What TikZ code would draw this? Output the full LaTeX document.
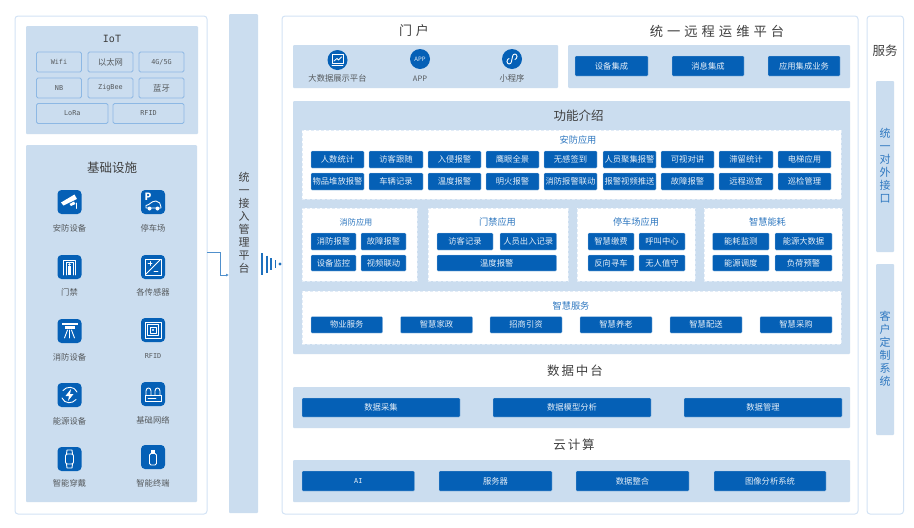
\documentclass[tikz,border=0pt]{standalone}
\usepackage{fontspec}
\usetikzlibrary{arrows.meta}
\setmainfont{Noto Sans CJK SC}
\newfontfamily\latinfont{DejaVu Sans Mono}
\newfontfamily\widefont[LetterSpace=30]{Noto Sans CJK SC}
\newfontfamily\halffont[LetterSpace=15]{Noto Sans CJK SC}
\definecolor{panelblue}{HTML}{CBDDEF}
\definecolor{btnblue}{HTML}{0560B6}
\definecolor{edgeblue}{HTML}{D3E3F5}
\definecolor{dashblue}{HTML}{E2ECF7}
\definecolor{chipedge}{HTML}{8DB8E4}
\definecolor{inkgrey}{HTML}{404040}
\definecolor{labelgrey}{HTML}{55595C}
\definecolor{headblue}{HTML}{2F78C0}
\tikzset{
  outerbox/.style={draw=edgeblue, line width=1pt, fill=white, rounded corners=3pt, inner sep=0pt},
  panel/.style={fill=panelblue, rounded corners=1pt, inner sep=0pt, text=inkgrey},
  whitebox/.style={draw=dashblue, densely dashed, line width=0.7pt, fill=white, inner sep=0pt},
  btn/.style={fill=btnblue, draw=white!70!btnblue, line width=0.3pt, rounded corners=1pt, inner sep=0pt, text=white!90!btnblue, font=\fontsize{8.3}{9}\selectfont},
  chip/.style={draw=chipedge, line width=0.8pt, rounded corners=1.5pt, inner sep=0pt, text=labelgrey, font=\fontsize{8.3}{9}\selectfont},
  latinchip/.style={chip, font=\latinfont\fontsize{6.8}{8}\selectfont},
  bigtitle/.style={text=inkgrey, font=\fontsize{12.5}{14}\selectfont, inner sep=0pt},
  apptitle/.style={text=headblue, font=\fontsize{9.2}{10}\selectfont, inner sep=0pt},
  iconlabel/.style={text=labelgrey, font=\fontsize{8.3}{9}\selectfont, inner sep=0pt},
  iconbox/.style={fill=btnblue, rounded corners=4pt, minimum size=24pt, inner sep=0pt},
  iconround/.style={fill=btnblue, circle, minimum size=20pt, inner sep=0pt},
  glyph/.style={draw=white, line width=0.9pt, line cap=round, line join=round},
  vertical/.style={align=center, font=\fontsize{11}{13}\selectfont},
  bar/.style={draw=btnblue!90!white, line cap=butt}
}
% box given by its corners, in pixels of the reference
\newcommand{\blk}[7]{%
  \pgfmathsetmacro{\blkw}{#5-#3}%
  \pgfmathsetmacro{\blkh}{#6-#4}%
  \node[#1, minimum width=\blkw pt, minimum height=\blkh pt] (#2) at ({(#3+#5)/2},{(#4+#6)/2}) {#7};}
\begin{document}
\begin{tikzpicture}[x=1pt, y=-1pt]
  \useasboundingbox (0,0) rectangle (914,528);
  % three frames and the access bar
  \blk{outerbox}{leftframe}{15}{16}{207}{514}{}
  \blk{outerbox}{mainframe}{282}{16}{858}{514}{}
  \blk{outerbox}{serviceframe}{867}{16}{903.5}{514}{}
  \blk{panel}{accessbar}{229}{14}{258}{513}{}
  \node[vertical, text=inkgrey, inner sep=0pt] (accesstext) at (244,222.5) {统\\一\\接\\入\\管\\理\\平\\台};

  % IoT
  \blk{panel}{iotpanel}{26}{26}{198}{134}{}
  \node[text=inkgrey, font=\latinfont\fontsize{10}{12}\selectfont, inner sep=0pt] (iottitle) at (112,39) {IoT};
  \blk{latinchip}{wifi}{36.5}{52}{81.5}{72}{Wifi}
  \blk{chip}{ethernet}{88}{52}{133}{72}{以太网}
  \blk{latinchip}{fiveg}{139}{52}{184}{72}{4G/5G}
  \blk{latinchip}{nb}{36.5}{78}{81.5}{98}{NB}
  \blk{latinchip}{zigbee}{88}{78}{133}{98}{ZigBee}
  \blk{chip}{bluetooth}{139}{78}{184}{98}{蓝牙}
  \blk{latinchip}{lora}{36.5}{103.5}{108}{123.5}{LoRa}
  \blk{latinchip}{rfidchip}{113}{103.5}{184}{123.5}{RFID}

  % base facilities
  \blk{panel}{basepanel}{26}{145}{197}{502}{}
  \node[bigtitle] (basetitle) at (112,168) {基础设施};
  \foreach \nm/\x/\y/\ly/\txt in {
    camera/69.5/202/228.5/安防设备, parking/153/202/228.5/停车场,
    gate/69.5/267/292.5/门禁, sensor/153/267/292.5/各传感器,
    fire/69.5/331/357/消防设备, rfid/153/330/356.5/{\latinfont\fontsize{6.8}{8}\selectfont RFID},
    energy/69.5/395/421/能源设备, network/153/394/420/基础网络,
    watch/69.5/459/483/智能穿戴, terminal/153/457/483/智能终端} {
    \node[iconbox] (\nm) at (\x,\y) {};
    \node[iconlabel] (\nm-label) at (\x,\ly) {\txt};
  }

  % icon glyphs
  \begin{scope}[shift={(camera.center)}]
    \fill[white] (-8.5,0.5) -- (5,-7.5) -- (7.5,-3) -- (-6,3.5) -- cycle;
    \fill[white] (0,2) -- (4.5,-0.5) -- (6,2) -- (1.5,4) -- cycle;
    \draw[glyph] (6.5,1) -- (6.5,6.5);
  \end{scope}
  \begin{scope}[shift={(parking.center)}]
    \node[text=white, font=\bfseries\fontsize{10}{10}\selectfont, inner sep=0pt] (parkingmark) at (-5,-5) {P};
    \draw[glyph] (-7,6) -- (-7,3.5) .. controls (-3,3) and (-2,-1) .. (3,-1) .. controls (6,-1) and (8,2) .. (8,5) -- (8,6) -- cycle;
    \fill[white] (-3.5,6.5) circle (2) (4.5,6.5) circle (2);
  \end{scope}
  \begin{scope}[shift={(gate.center)}]
    \draw[glyph] (-6,8) -- (-6,-7) -- (6,-7) -- (6,8);
    \draw[glyph] (-3.5,8) -- (-3.5,-4.5) -- (3.5,-4.5) -- (3.5,8);
    \fill[white] (0,-2.5) circle (1.3);
    \fill[white] (-1.5,-0.8) rectangle (1.5,7.5);
  \end{scope}
  \begin{scope}[shift={(sensor.center)}]
    \draw[glyph] (-8,-8) rectangle (8,8);
    \draw[glyph] (7,-7) -- (-7,7);
    \draw[glyph] (-5,-3.5) -- (-1,-3.5) (-3,-5.5) -- (-3,-1.5) (1,4) -- (5,4);
  \end{scope}
  \begin{scope}[shift={(fire.center)}]
    \fill[white] (-8,-8) rectangle (8,-6);
    \fill[white] (-5,-5) rectangle (5,-2.5);
    \draw[glyph] (-2,-1) -- (-5,7) (0,-1) -- (0,7) (2,-1) -- (5,7);
  \end{scope}
  \begin{scope}[shift={(rfid.center)}]
    \draw[glyph, line width=0.7pt] (-8,-8) rectangle (8,8) (-5.5,-5.5) rectangle (5.5,5.5) (-3,-3) rectangle (3,3);
    \fill[white] (0,0) circle (1.2);
  \end{scope}
  \begin{scope}[shift={(energy.center)}]
    \draw[glyph] (-6.5,-4.5) .. controls (-3,-9) and (5,-9) .. (7.5,-3);
    \draw[glyph] (6.5,4.5) .. controls (3,9) and (-5,9) .. (-7.5,3);
    \fill[white] (1.5,-6) -- (-4,1) -- (-0.5,1) -- (-1.5,6) -- (4,-1) -- (0.5,-1) -- cycle;
  \end{scope}
  \begin{scope}[shift={(network.center)}]
    \draw[glyph] (-8,1.5) rectangle (8,7);
    \draw[glyph] (-7,1.5) -- (-7,-3) .. controls (-7,-7) and (-2,-7) .. (-2,-3) -- (-2,1.5);
    \draw[glyph] (2,1.5) -- (2,-3) .. controls (2,-7) and (7,-7) .. (7,-3) -- (7,1.5);
    \draw[glyph] (-5,4.3) -- (3,4.3);
  \end{scope}
  \begin{scope}[shift={(watch.center)}]
    \draw[glyph, rounded corners=2pt] (-4,-5) rectangle (4,5);
    \draw[glyph] (-3,-5) -- (-2.5,-9) -- (2.5,-9) -- (3,-5) (-3,5) -- (-2.5,9) -- (2.5,9) -- (3,5);
  \end{scope}
  \begin{scope}[shift={(terminal.center)}]
    \draw[glyph, rounded corners=1.5pt] (-3.5,-3.5) rectangle (3.5,8);
    \fill[white] (-2,-7.5) rectangle (2,-4.5);
  \end{scope}

  % link to the access bar
  \coordinate (linkstart) at (207,252);
  \coordinate (linkbend) at (220.5,252);
  \coordinate (linkdown) at (220.5,275);
  \coordinate (linkend) at (229,275);
  \draw[draw=btnblue!70!white, line width=0.8pt, -{Latex[length=3pt,width=3pt]}] (linkstart) -- (linkbend) -- (linkdown) -- (linkend);
  % signal bars
  \foreach \x/\h/\w in {262/11/2.2, 266.5/8.5/2, 271/6/1.9, 275.5/4/1.8} {
    \draw[bar, line width=\w pt] (\x,264-\h) -- (\x,264+\h);
  }
  \fill[btnblue!90!white] (280,264) circle (1.6);

  % portal
  \node[bigtitle, font=\widefont\fontsize{13}{14}\selectfont] (portaltitle) at (414,31) {门户};
  \blk{panel}{portalpanel}{293}{45}{558}{88}{}
  \node[iconround] (bigdata) at (337.5,60) {};
  \node[iconround, text=white!90!btnblue, font=\fontsize{6}{7}\selectfont] (app) at (420,59) {APP};
  \node[iconround] (miniapp) at (512,59) {};
  \node[iconlabel] (bigdatalabel) at (337.5,78.5) {大数据展示平台};
  \node[iconlabel, font=\fontsize{7.5}{9}\selectfont] (applabel) at (420,78.5) {APP};
  \node[iconlabel] (miniapplabel) at (512,78.5) {小程序};
  \begin{scope}[shift={(bigdata.center)}]
    \draw[glyph, line width=0.8pt] (5.5,-5.5) -- (-5.5,-5.5) -- (-5.5,3) -- (5.5,3) -- cycle;
    \draw[glyph, line width=0.8pt] (-3.5,1) -- (-0.5,-1.5) -- (1,0) -- (4,-3) (-5.5,5.5) -- (5.5,5.5);
  \end{scope}
  \begin{scope}[shift={(miniapp.center)}]
    \draw[glyph] (-5,2.5) .. controls (-5,5.5) and (-1,6) .. (-0.5,2.5) -- (0.5,-2.5) .. controls (1,-6) and (5,-5.5) .. (5,-2.5);
    \draw[glyph] (-5,2.5) .. controls (-5,1) and (-4,0) .. (-3,-0.5) (5,-2.5) .. controls (5,-1) and (4,0) .. (3,0.5);
  \end{scope}

  % remote operations
  \node[bigtitle, font=\widefont\fontsize{13.3}{14}\selectfont] (opstitle) at (717,31) {统一远程运维平台};
  \blk{panel}{opspanel}{568}{45}{850}{88}{}
  \blk{btn}{opsdevice}{575}{56}{648}{76}{设备集成}
  \blk{btn}{opsmessage}{672}{56}{744}{76}{消息集成}
  \blk{btn}{opsapp}{768}{56}{840}{76}{应用集成业务}

  % functions
  \blk{panel}{funcpanel}{293}{101}{850}{354}{}
  \node[bigtitle] (functitle) at (578.5,116) {功能介绍};
  \blk{whitebox}{secbox}{302}{130}{841}{199}{}
  \node[apptitle] (sectitle) at (578,140) {安防应用};
  \foreach \i/\xa/\xb/\toprow/\lowrow in {
    1/311/364/人数统计/物品堆放报警, 2/369/423/访客跟随/车辆记录,
    3/428/481/入侵报警/温度报警, 4/486/539/鹰眼全景/明火报警,
    5/544/597/无感签到/消防报警联动, 6/603/656/人员聚集报警/报警视频推送,
    7/661/714/可视对讲/故障报警, 8/719/773/滞留统计/远程巡查,
    9/778/831/电梯应用/巡检管理} {
    \blk{btn}{secA\i}{\xa}{151}{\xb}{168}{\toprow}
    \blk{btn}{secB\i}{\xa}{173}{\xb}{190}{\lowrow}
  }

  \blk{whitebox}{firebox}{302}{208}{417}{281}{}
  \node[apptitle, font=\fontsize{8.2}{10}\selectfont] (firetitle) at (356,222) {消防应用};
  \blk{btn}{fireA}{311}{233}{356}{250}{消防报警}
  \blk{btn}{fireB}{361}{233}{406}{250}{故障报警}
  \blk{btn}{fireC}{311}{255}{356}{271}{设备监控}
  \blk{btn}{fireD}{361}{255}{406}{271}{视频联动}

  \blk{whitebox}{gatebox}{428}{208}{568}{281}{}
  \node[apptitle] (gatetitle) at (497.5,222) {门禁应用};
  \blk{btn}{gateA}{437}{233}{493}{250}{访客记录}
  \blk{btn}{gateB}{500}{233}{556.5}{250}{人员出入记录}
  \blk{btn}{gateC}{437}{255}{556.5}{271}{温度报警}

  \blk{whitebox}{parkbox}{577}{208}{695}{281}{}
  \node[apptitle] (parktitle) at (636,222) {停车场应用};
  \blk{btn}{parkA}{588}{233}{634}{250}{智慧缴费}
  \blk{btn}{parkB}{639}{233}{685}{250}{呼叫中心}
  \blk{btn}{parkC}{588}{255}{634}{271}{反向寻车}
  \blk{btn}{parkD}{639}{255}{685}{271}{无人值守}

  \blk{whitebox}{powerbox}{704}{208}{842}{281}{}
  \node[apptitle] (powertitle) at (767.5,222) {智慧能耗};
  \blk{btn}{powerA}{712.5}{233}{769}{250}{能耗监测}
  \blk{btn}{powerB}{775}{233}{832}{250}{能源大数据}
  \blk{btn}{powerC}{712.5}{255}{769}{271}{能源调度}
  \blk{btn}{powerD}{775}{255}{832}{271}{负荷预警}

  \blk{whitebox}{smartbox}{302}{291}{841}{344}{}
  \node[apptitle] (smarttitle) at (571,306) {智慧服务};
  \foreach \i/\xa/\xb/\txt in {1/311/382.5/物业服务, 2/400.5/472.5/智慧家政, 3/490/562/招商引资,
    4/580/652/智慧养老, 5/670/742/智慧配送, 6/760/832/智慧采购} {
    \blk{btn}{smart\i}{\xa}{316.5}{\xb}{333}{\txt}
  }

  % data platform
  \node[bigtitle, font=\halffont\fontsize{12.5}{14}\selectfont] (datatitle) at (575,371) {数据中台};
  \blk{panel}{datapanel}{293}{387}{850}{428}{}
  \foreach \i/\xa/\xb/\txt in {1/302/460/数据采集, 2/493/651/数据模型分析, 3/684/842/数据管理} {
    \blk{btn}{data\i}{\xa}{398}{\xb}{417}{\txt}
  }

  % cloud
  \node[bigtitle, font=\halffont\fontsize{12.5}{14}\selectfont] (cloudtitle) at (574,445) {云计算};
  \blk{panel}{cloudpanel}{293}{460}{850}{502}{}
  \blk{btn}{cloudA}{302}{471}{414.5}{491}{\latinfont\fontsize{6.8}{8}\selectfont AI}
  \foreach \i/\xa/\xb/\txt in {2/439/552/服务器, 3/576/689/数据整合, 4/714/826/图像分析系统} {
    \blk{btn}{cloud\i}{\xa}{471}{\xb}{491}{\txt}
  }

  % services
  \node[bigtitle] (servicetitle) at (885,51) {服务};
  \blk{panel}{apipanel}{876}{81}{894}{252}{}
  \node[vertical, text=headblue, inner sep=0pt] (apitext) at (885,166) {统\\一\\对\\外\\接\\口};
  \blk{panel}{custompanel}{876}{264}{894}{435}{}
  \node[vertical, text=headblue, inner sep=0pt] (customtext) at (885,348.5) {客\\户\\定\\制\\系\\统};
\end{tikzpicture}
\end{document}
